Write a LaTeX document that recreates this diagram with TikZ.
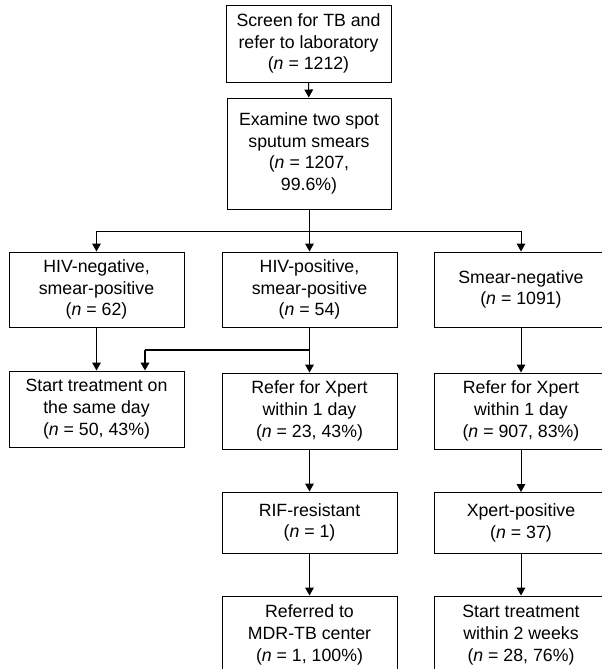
\documentclass[tikz,border=0pt]{standalone}
\usepackage{fontspec}
\setmainfont{Liberation Sans}
\usetikzlibrary{arrows.meta}

\begin{document}
\begin{tikzpicture}[x=0.75pt, y=-0.75pt,
  box/.style={draw, line width=0.75pt, align=center, inner sep=0pt, font=\fontsize{13.3}{16.3}\selectfont},
  sz/.style 2 args={minimum width=#1*0.75pt, minimum height=#2*0.75pt},
  link/.style={line width=0.75pt},
  >={Triangle[length=6pt, width=6.5pt]}]
\useasboundingbox (0,0) rectangle (602,669);
\clip (0,0) rectangle (602,669);
% boxes
\node[box, sz={165}{77}] (screen) at (308.5,43.5) {Screen for TB and\\refer to laboratory\\(\textit{n} = 1212)};
\node[box, sz={164}{111}] (exam) at (309,153.5) {Examine two spot\\sputum smears\\(\textit{n} = 1207,\\99.6\%)};
\node[box, sz={175}{75}] (hivneg) at (96.5,289.5) {HIV-negative,\\smear-positive\\(\textit{n} = 62)};
\node[box, sz={175}{75}] (hivpos) at (309.5,289.5) {HIV-positive,\\smear-positive\\(\textit{n} = 54)};
\node[box, sz={174}{75}] (smneg) at (521,289.5) {Smear-negative\\(\textit{n} = 1091)};
\node[box, sz={175}{76}] (sameday) at (96.5,409) {Start treatment on\\the same day\\(\textit{n} = 50, 43\%)};
\node[box, sz={175}{76}] (xpertmid) at (309.5,411) {Refer for Xpert\\within 1 day\\(\textit{n} = 23, 43\%)};
\node[box, sz={174}{76}] (xpertright) at (521,411) {Refer for Xpert\\within 1 day\\(\textit{n} = 907, 83\%)};
\node[box, sz={175}{61}] (rif) at (309.5,522.5) {RIF-resistant\\(\textit{n} = 1)};
\node[box, sz={174}{61}] (xpos) at (521,523) {Xpert-positive\\(\textit{n} = 37)};
\node[box, sz={175}{78}] (mdr) at (309.5,635) {Referred to\\MDR-TB center\\(\textit{n} = 1, 100\%)};
\node[box, sz={174}{78}] (twoweeks) at (521,635) {Start treatment\\within 2 weeks\\(\textit{n} = 28, 76\%)};
% connectors
\coordinate (split) at (309,231);
\coordinate (join) at (145,350);
\draw[link, ->] (screen) -- (exam);
\draw[link] (exam.south) -- (split);
\draw[link] (hivneg.north |- split) -- (smneg.north |- split);
\foreach \b in {hivneg, hivpos, smneg}
  \draw[link, ->] (\b.north |- split) -- (\b.north);
\draw[link, ->] (hivneg) -- (sameday);
\draw[link, ->] (hivpos) -- (xpertmid);
\draw[line width=1.6pt] (hivpos.south |- join) -- (join);
\draw[line width=1.2pt, ->] (join) -- (join |- sameday.north);
\draw[link, ->] (smneg) -- (xpertright);
\draw[link, ->] (xpertmid) -- (rif);
\draw[link, ->] (rif) -- (mdr);
\draw[link, ->] (xpertright) -- (xpos);
\draw[link, ->] (xpos) -- (twoweeks);
\end{tikzpicture}
\end{document}
